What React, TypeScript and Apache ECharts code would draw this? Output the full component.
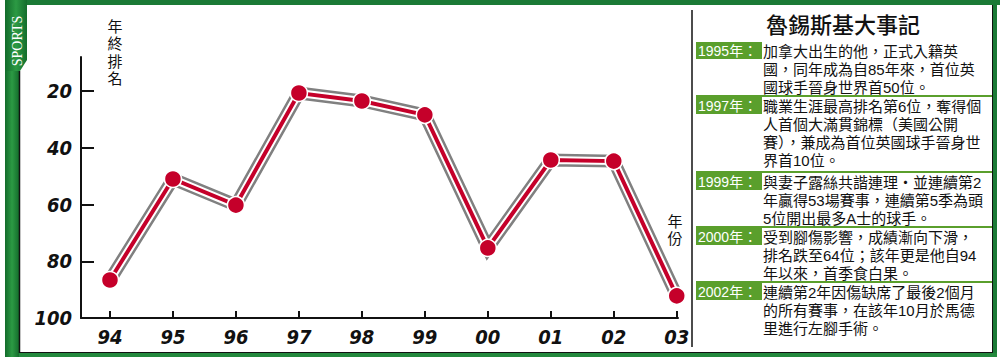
import React, { useEffect, useRef } from "react";
import * as echarts from "echarts";

// ---- data ----
const years = ["94", "95", "96", "97", "98", "99", "00", "01", "02", "03"];
const ranks = [86.6, 51, 60.2, 20.7, 23.5, 28.4, 75.3, 44.3, 44.7, 92.2];
const yLabelValues = [20, 40, 60, 80, 100];
const yTickValues = [20, 40, 60, 80];

const panelTitle = "魯錫斯基大事記";
const eventYears = ["1995年：", "1997年：", "1999年：", "2000年：", "2002年："];
const eventLines: string[][] = [
  ["加拿大出生的他，正式入籍英", "國，同年成為自85年來，首位英", "國球手晉身世界首50位。"],
  ["職業生涯最高排名第6位，奪得個", "人首個大滿貫錦標（美國公開", "賽），兼成為首位英國球手晉身世", "界首10位。"],
  ["與妻子露絲共諧連理‧並連續第2", "年贏得53場賽事，連續第5季為頭", "5位開出最多A士的球手。"],
  ["受到腳傷影響，成績漸向下滑，", "排名跌至64位；該年更是他自94", "年以來，首季食白果。"],
  ["連續第2年因傷缺席了最後2個月", "的所有賽事，在該年10月於馬德", "里進行左腳手術。"],
];
const yAxisTitle = "年終排名";
const xAxisTitle = "年份";

const RED = "#c5002a";
const GRAY = "#808080";
const GREEN_DARK = "#1b7a36";
const GREEN_LABEL = "#5a9f2c";
const TXT = "Liberation Sans, Noto Sans CJK TC, sans-serif";
const NUMFONT = "DejaVu Sans Condensed";

export default function App() {
  const ref = useRef<HTMLDivElement>(null);

  useEffect(() => {
    if (!ref.current) return;
    const chart = echarts.init(ref.current, null, { renderer: "svg" });
    const pts = ranks.map((v, i) => [i, v]);
    const idx = years.map((_, i) => i);

    const boxTops = [42, 97, 173, 228, 283];
    const lineStep = 18;
    const graphics: any[] = [];

    // frame
    const stripGrad = () =>
      new echarts.graphic.LinearGradient(0, 0, 1, 0, [
        { offset: 0, color: "#126b2a" },
        { offset: 0.5, color: "#2c9a44" },
        { offset: 1, color: "#146d2c" },
      ]);
    graphics.push(
      { type: "rect", shape: { x: 5, y: 0, width: 995, height: 5 }, style: { fill: GREEN_DARK } },
      { type: "rect", shape: { x: 993, y: 0, width: 4, height: 357 }, style: { fill: GREEN_DARK } },
      { type: "rect", shape: { x: 5, y: 353, width: 992, height: 4 }, style: { fill: "#23893d" } },
      { type: "rect", shape: { x: 5, y: 0, width: 14, height: 357 }, style: { fill: stripGrad() } },
      {
        type: "polygon",
        shape: { points: [[5, 0], [27, 0], [27, 60], [20, 71], [5, 71]] },
        style: { fill: stripGrad() },
      },
      { type: "line", shape: { x1: 19.5, y1: 71, x2: 19.5, y2: 353 }, style: { stroke: "#111", lineWidth: 1.5 } },
      { type: "line", shape: { x1: 19, y1: 352.5, x2: 993, y2: 352.5 }, style: { stroke: "#111", lineWidth: 1 } },
      { type: "line", shape: { x1: 992.5, y1: 5, x2: 992.5, y2: 353 }, style: { stroke: "#111", lineWidth: 1 } },
      {
        type: "text",
        x: 17,
        y: 41,
        rotation: Math.PI / 2,
        style: {
          text: "SPORTS",
          fill: "#fff",
          fontSize: 14,
          fontFamily: "Liberation Serif",
          align: "center",
          verticalAlign: "middle",
        },
      }
    );

    // vertical axis titles, one glyph per element
    yAxisTitle.split("").forEach((ch, i) => {
      graphics.push({
        type: "text",
        x: 115,
        y: 26 + i * 17.5,
        style: { text: ch, fill: "#111", fontSize: 15, fontFamily: TXT, align: "center", verticalAlign: "middle" },
      });
    });
    xAxisTitle.split("").forEach((ch, i) => {
      graphics.push({
        type: "text",
        x: 675,
        y: 221 + i * 17.5,
        style: { text: ch, fill: "#111", fontSize: 15, fontFamily: TXT, align: "center", verticalAlign: "middle" },
      });
    });

    // divider + title
    graphics.push(
      { type: "line", shape: { x1: 692, y1: 10, x2: 692, y2: 347 }, style: { stroke: "#111", lineWidth: 1.5 } },
      {
        type: "text",
        x: 843,
        y: 23,
        style: {
          text: panelTitle,
          fill: "#111",
          fontSize: 22,
          fontWeight: 500,
          fontFamily: "Noto Sans CJK TC",
          align: "center",
          verticalAlign: "middle",
        },
      }
    );

    eventYears.forEach((yr, k) => {
      const top = boxTops[k];
      if (k > 0) {
        graphics.push({
          type: "line",
          shape: { x1: 696, y1: top - 1, x2: 992, y2: top - 1 },
          style: { stroke: GREEN_LABEL, lineWidth: 2 },
        });
      }
      graphics.push({ type: "rect", shape: { x: 696, y: top, width: 66, height: 17 }, style: { fill: GREEN_LABEL } });
      graphics.push({
        type: "text",
        x: 698,
        y: top + 9,
        style: { text: yr, fill: "#fff", fontSize: 14, fontFamily: TXT, align: "left", verticalAlign: "middle" },
      });
      eventLines[k].forEach((ln, j) => {
        graphics.push({
          type: "text",
          x: 763,
          y: top + 9 + j * lineStep,
          style: { text: ln, fill: "#111", fontSize: 15, fontFamily: TXT, align: "left", verticalAlign: "middle" },
        });
      });
    });

    const numLabel = {
      fontSize: 20,
      fontWeight: "bold" as const,
      fontStyle: "italic" as const,
      fontFamily: NUMFONT,
      color: "#111",
    };

    chart.setOption({
      animation: false,
      backgroundColor: "#fff",
      grid: { left: 81, right: 322, top: 57, bottom: 39 },
      xAxis: {
        type: "value",
        min: -0.46,
        max: 9.02,
        axisLine: { show: true, onZero: false, lineStyle: { color: "#111", width: 2 } },
        splitLine: { show: false },
        axisTick: { show: true, inside: true, length: 7, customValues: idx, lineStyle: { color: "#111", width: 2 } },
        axisLabel: { ...numLabel, margin: 9, customValues: idx, formatter: (v: number) => years[Math.round(v)] ?? "" },
      },
      yAxis: {
        type: "value",
        inverse: true,
        min: 8,
        max: 100,
        axisLine: { show: true, onZero: false, lineStyle: { color: "#111", width: 2 } },
        splitLine: { show: false },
        axisTick: { show: true, inside: true, length: 13, customValues: yTickValues, lineStyle: { color: "#111", width: 2 } },
        axisLabel: { ...numLabel, margin: 9, customValues: yLabelValues },
      },
      series: [
        {
          type: "line",
          data: pts,
          symbol: "none",
          silent: true,
          z: 2,
          lineStyle: { color: GRAY, width: 13, cap: "square", join: "miter" },
        },
        {
          type: "line",
          data: pts,
          symbol: "none",
          silent: true,
          z: 3,
          lineStyle: { color: "#fff", width: 8, cap: "square", join: "miter" },
        },
        {
          type: "line",
          data: pts,
          symbol: "circle",
          symbolSize: 17,
          showAllSymbol: true,
          silent: true,
          z: 4,
          lineStyle: { color: RED, width: 4, join: "miter" },
          itemStyle: { color: RED, borderColor: "#fff", borderWidth: 1.5 },
        },
      ],
      graphic: { elements: graphics },
    });
    return () => chart.dispose();
  }, []);

  return (
    <div
      ref={ref}
      style={{ position: "fixed", left: 0, top: 0, width: 1000, height: 357, background: "#fff" }}
    />
  );
}
